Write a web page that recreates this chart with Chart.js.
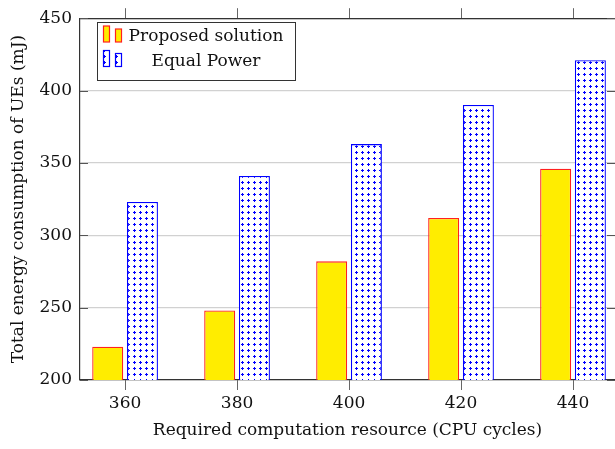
<!DOCTYPE html>
<html>
<head>
<meta charset="utf-8">
<script src="https://cdn.jsdelivr.net/npm/chart.js@4"></script>
<style>
  html, body { margin: 0; padding: 0; background: #fff; overflow: hidden; }
  #wrap { width: 615px; height: 449px; }
</style>
</head>
<body>
<div id="wrap"><canvas id="chart" width="615" height="449"></canvas></div>
<script>
// data
const cpuCycles = [360, 380, 400, 420, 440];
const proposed = [223, 248, 282, 312, 346];
const equalPower = [323, 341, 363, 390, 421];
const yTicks = [200, 250, 300, 350, 400, 450];
const seriesNames = ['Proposed solution', 'Equal Power'];

const FONT = 'DejaVu Serif';
const AXIS_COLOR = '#333';
const yellow = '#ffed00';
const red = '#ff2020';
const blue = '#0000ff';

Chart.defaults.font.family = FONT;
Chart.defaults.font.size = 17;
Chart.defaults.color = '#111';

// dotted fill for the Equal Power bars
function dotPattern() {
    const c = document.createElement('canvas');
    c.width = 6; c.height = 6;
    const g = c.getContext('2d');
    g.fillStyle = '#fff';
    g.fillRect(0, 0, 6, 6);
    g.fillStyle = blue;
    g.fillRect(2, 1, 1, 3);
    g.fillRect(1, 2, 3, 1);
    return document.getElementById('chart').getContext('2d').createPattern(c, 'repeat');
}

const setTicks = (vals) => (scale) => { scale.ticks = vals.map(v => ({ value: v })); };

// y ticks drawn inward on both sides + legend box (pgfplots style)
const extras = {
    id: 'extras',
    afterDraw(chart) {
        const ctx = chart.ctx;
        const a = chart.chartArea;
        const y = chart.scales.y;
        ctx.save();
        ctx.strokeStyle = '#555';
        ctx.lineWidth = 1;
        yTicks.forEach(v => {
            const py = Math.round(y.getPixelForValue(v)) + 0.5;
            ctx.beginPath();
            ctx.moveTo(a.left, py); ctx.lineTo(a.left + 8, py);
            ctx.moveTo(a.right - 8, py); ctx.lineTo(a.right, py);
            ctx.stroke();
        });

        // legend
        const box = { x: 97, y: 22, w: 198, h: 58 };
        ctx.fillStyle = '#fff';
        ctx.fillRect(box.x, box.y, box.w, box.h);
        ctx.strokeStyle = AXIS_COLOR;
        ctx.strokeRect(box.x + 0.5, box.y + 0.5, box.w, box.h);

        const rows = [
            { fill: yellow, stroke: red, bottom: 42, cy: 36.5 },
            { fill: chart.data.datasets[1].backgroundColor, stroke: blue, bottom: 66.5, cy: 61.5 }
        ];
        ctx.font = '17px ' + FONT;
        ctx.textAlign = 'center';
        ctx.textBaseline = 'middle';
        rows.forEach((r, i) => {
            [[103.5, 16], [115.5, 13]].forEach(([bx, bh]) => {
                ctx.fillStyle = r.fill;
                ctx.fillRect(bx, r.bottom - bh, 6, bh);
                ctx.strokeStyle = r.stroke;
                ctx.lineWidth = 1.2;
                ctx.strokeRect(bx, r.bottom - bh, 6, bh);
            });
            ctx.fillStyle = '#111';
            ctx.fillText(seriesNames[i], 206, r.cy);
        });
        ctx.restore();
    }
};

new Chart(document.getElementById('chart'), {
    type: 'bar',
    data: {
        datasets: [
            {
                label: seriesNames[0],
                data: cpuCycles.map((c, i) => ({ x: c, y: proposed[i] })),
                backgroundColor: yellow,
                borderColor: red,
                borderWidth: 1.3,
                borderSkipped: false
            },
            {
                label: seriesNames[1],
                data: cpuCycles.map((c, i) => ({ x: c, y: equalPower[i] })),
                backgroundColor: dotPattern(),
                borderColor: blue,
                borderWidth: 1.3,
                borderSkipped: false
            }
        ]
    },
    options: {
        responsive: false,
        animation: false,
        categoryPercentage: 0.62,
        barPercentage: 0.893,
        layout: { padding: 0 },
        plugins: { legend: { display: false }, tooltip: { enabled: false } },
        scales: {
            x: {
                type: 'linear',
                position: 'bottom',
                min: 351.95,
                max: 447.5,
                offset: false,
                afterBuildTicks: setTicks(cpuCycles),
                afterFit: (s) => { s.height = 69; },
                grid: { offset: false, drawOnChartArea: false, drawTicks: true, tickLength: 10, color: '#666' },
                border: { display: true, color: AXIS_COLOR, width: 1.2 },
                ticks: { padding: 3, font: { size: 17 }, color: '#111' },
                title: {
                    display: true,
                    text: 'Required computation resource (CPU cycles)',
                    font: { size: 17 },
                    color: '#111',
                    padding: { top: 0, bottom: 8 }
                }
            },
            x2: {
                type: 'linear',
                position: 'top',
                min: 351.95,
                max: 447.5,
                offset: false,
                afterBuildTicks: setTicks(cpuCycles),
                afterFit: (s) => { s.height = 10; },
                grid: { offset: false, drawOnChartArea: false, drawTicks: true, tickLength: 10, color: '#666' },
                border: { display: true, color: AXIS_COLOR, width: 1.2 },
                ticks: { display: false }
            },
            y: {
                type: 'linear',
                min: 200,
                max: 450,
                afterBuildTicks: setTicks(yTicks),
                afterFit: (s) => { s.width = 80; },
                grid: { drawTicks: false, color: 'rgba(0,0,0,0.18)', lineWidth: 1.2 },
                border: { display: true, color: AXIS_COLOR, width: 1.2 },
                ticks: { padding: 8, font: { size: 17 }, color: '#111' },
                title: {
                    display: true,
                    text: 'Total energy consumption of UEs (mJ)',
                    font: { size: 17 },
                    color: '#111',
                    padding: { top: 8, bottom: 0 }
                }
            }
        }
    },
    plugins: [extras]
});
</script>
</body>
</html>
